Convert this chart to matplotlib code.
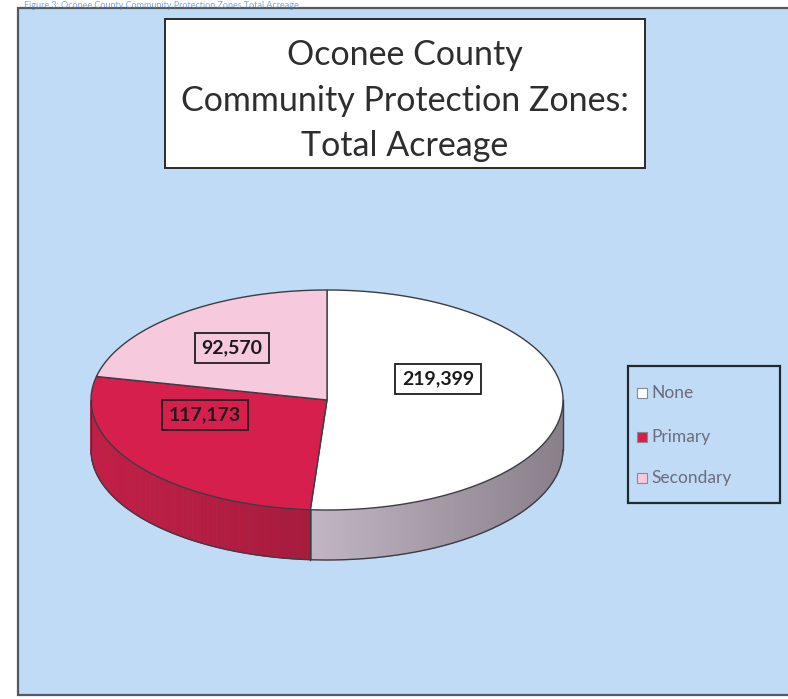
import numpy as np
import matplotlib.pyplot as plt
from matplotlib.patches import Polygon, Rectangle
from matplotlib.colors import to_rgb

zones = ['None', 'Primary', 'Secondary']
acres = [219399, 117173, 92570]
top_colors = ['#ffffff', '#d71f4d', '#f7c9dc']
side_colors = ['#c2b6c4', '#c21f47', '#dca3bb']
side_shade = [0.30, 0.14, 0.14]

plt.rcParams['font.family'] = ['Lato', 'DejaVu Sans']

fig = plt.figure(figsize=(7.88, 6.99), dpi=100)
ax = fig.add_axes([0, 0, 1, 1])
ax.set_xlim(0, 788)
ax.set_ylim(699, 0)
ax.axis('off')

# small caption line above the chart
ax.text(24, 0.5, 'Figure 3: Oconee County Community Protection Zones Total Acreage',
        color='#4a86d8', fontsize=6.5, va='top', ha='left', alpha=0.7)

# chart area
ax.add_patch(Rectangle((18, 8), 800, 687, facecolor='#bfdbf5', edgecolor='#555a60', lw=1.6))

# title box
ax.add_patch(Rectangle((165, 19), 480, 149, facecolor='white', edgecolor='#2a2a2a', lw=1.4))
for y, line in zip([55, 101, 146], ['Oconee County', 'Community Protection Zones:', 'Total Acreage']):
    ax.text(405, y, line, ha='center', va='center', fontsize=24.5, color='#2e2e2e')

# 3d pie geometry
cx, cy, rx, ry, depth = 327, 400, 236, 110, 50

frac = np.array(acres) / sum(acres)
starts = 90 - 360 * np.concatenate([[0], np.cumsum(frac)[:-1]])
ends = starts - 360 * frac


def pt(theta, dz=0):
    t = np.radians(theta)
    return cx + rx * np.cos(t), cy - ry * np.sin(t) + dz


# side walls, drawn as thin strips so each slice can darken left to right
for s, e, col, shade in zip(starts, ends, side_colors, side_shade):
    th = np.arange(e, s + 0.5, 0.5)
    th = th[np.sin(np.radians(th)) < 0]
    if len(th) < 2:
        continue
    base = np.array(to_rgb(col))
    xs = [pt(t)[0] for t in th]
    x0, x1 = min(xs), max(xs)
    for a, b in zip(th[:-1], th[1:]):
        xm = (pt(a)[0] + pt(b)[0]) / 2
        k = 1.0 - shade * (xm - x0) / max(x1 - x0, 1)
        c = np.clip(base * k, 0, 1)
        quad = [pt(a), pt(b), pt(b, depth), pt(a, depth)]
        ax.add_patch(Polygon(quad, closed=True, facecolor=c, edgecolor=c, lw=0.6))

# outline of the walls
th = np.arange(180, 360.5, 0.5)
bx, by = zip(*[pt(t, depth) for t in th])
ax.plot(bx, by, color='#3c3c44', lw=1.0)
for t in [180, 360]:
    ax.plot([pt(t)[0]] * 2, [pt(t)[1], pt(t, depth)[1]], color='#3c3c44', lw=1.0)
for s in starts:
    if np.sin(np.radians(s)) < 0:
        ax.plot([pt(s)[0]] * 2, [pt(s)[1], pt(s, depth)[1]], color='#3c3c44', lw=1.0)

# top faces
for s, e, col in zip(starts, ends, top_colors):
    th = np.linspace(s, e, 200)
    poly = [(cx, cy)] + [pt(t) for t in th]
    ax.add_patch(Polygon(poly, closed=True, facecolor=col, edgecolor='#3c3c44', lw=1.0))

# value labels
label_pos = [(438, 379), (205, 415), (232, 348)]
for (x, y), v in zip(label_pos, acres):
    ax.text(x, y, f'{v:,}', ha='center', va='center', fontsize=14, fontweight='bold',
            color='#1a1a1a',
            bbox=dict(boxstyle='square,pad=0.35', facecolor='none', edgecolor='#1e1e1e', lw=1.3))

# legend
ax.add_patch(Rectangle((628, 366), 152, 137, facecolor='none', edgecolor='#1e2a30', lw=1.6))
for y, name, col in zip([393, 437, 478], zones, top_colors):
    ax.add_patch(Rectangle((637, y - 5), 10, 10, facecolor=col, edgecolor='#8a8a96', lw=0.8))
    ax.text(651, y, name, ha='left', va='center', fontsize=12.5, color='#6c6c7c')

fig.savefig('out.png', dpi=100)
